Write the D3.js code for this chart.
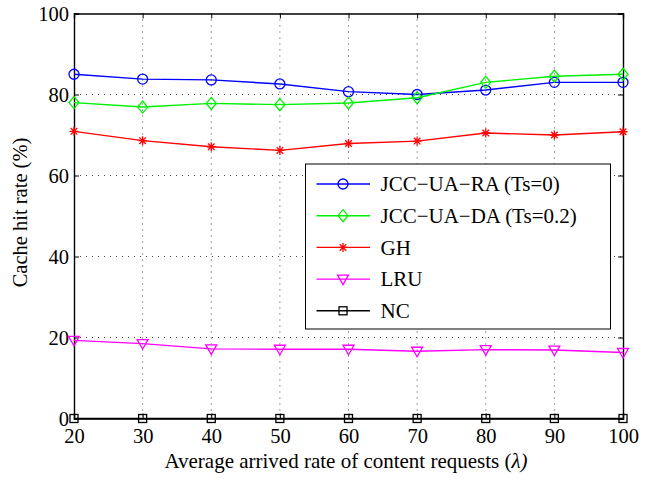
<!DOCTYPE html>
<html><head><meta charset="utf-8">
<script src="https://cdn.jsdelivr.net/npm/d3@7"></script>
<style>body{margin:0;background:#fff}svg{display:block}</style>
</head><body><svg id="c" width="656" height="478"></svg>
<script>
const xValues = [20,30,40,50,60,70,80,90,100];
const jccRA = [85.0,83.8,83.6,82.6,80.7,80.0,81.1,83.0,83.0];
const jccDA = [78.0,76.9,77.8,77.5,77.9,79.2,83.0,84.5,85.0];
const gh    = [70.9,68.6,67.1,66.2,67.9,68.5,70.5,70.0,70.8];
const lru   = [19.3,18.5,17.2,17.1,17.1,16.6,17.0,16.9,16.3];
const nc    = [0,0,0,0,0,0,0,0,0];
const seriesNames = ["JCC\u2212UA\u2212RA (Ts=0)","JCC\u2212UA\u2212DA (Ts=0.2)","GH","LRU","NC"];
const xTicks = [20,30,40,50,60,70,80,90,100];
const yTicks = [0,20,40,60,80,100];
const FONT = "Liberation Serif, Times New Roman, serif";

const series = [
  {name: seriesNames[0], values: jccRA, color: "#0000ff", marker: "circle"},
  {name: seriesNames[1], values: jccDA, color: "#00f000", marker: "diamond"},
  {name: seriesNames[2], values: gh,    color: "#ff0000", marker: "star"},
  {name: seriesNames[3], values: lru,   color: "#ff00ff", marker: "tri"},
  {name: seriesNames[4], values: nc,    color: "#000000", marker: "square"}
];

const svg = d3.select("#c");
const L = 74, R = 623, T = 13.5, B = 418.5;
const x = d3.scaleLinear().domain([20,100]).range([L,R]);
const y = d3.scaleLinear().domain([0,100]).range([B,T]);

// grid
const g = svg.append("g");
g.selectAll("line.gx").data(xTicks.slice(1,-1)).join("line")
  .attr("x1", d=>x(d)).attr("x2", d=>x(d)).attr("y1", T).attr("y2", B)
  .attr("stroke", "#444").attr("stroke-width", 1).attr("stroke-dasharray", "1,5");
g.selectAll("line.gy").data(yTicks.slice(1,-1)).join("line")
  .attr("y1", d=>y(d)).attr("y2", d=>y(d)).attr("x1", L).attr("x2", R)
  .attr("stroke", "#444").attr("stroke-width", 1).attr("stroke-dasharray", "1,5");

// axes
const ax = svg.append("g");
const xb = ax.append("g").attr("transform", `translate(0,${B})`)
  .call(d3.axisBottom(x).tickValues(xTicks).tickSize(-5).tickPadding(11).tickFormat(d3.format("d")));
const xt = ax.append("g").attr("transform", `translate(0,${T})`)
  .call(d3.axisTop(x).tickValues(xTicks).tickSize(-5).tickFormat(""));
const yl = ax.append("g").attr("transform", `translate(${L},0)`)
  .call(d3.axisLeft(y).tickValues(yTicks).tickSize(-5).tickPadding(5).tickFormat(d3.format("d")));
const yr = ax.append("g").attr("transform", `translate(${R},0)`)
  .call(d3.axisRight(y).tickValues(yTicks).tickSize(-5).tickFormat(""));
ax.selectAll("g").attr("font-family", FONT).attr("font-size", 20);
ax.selectAll(".domain").attr("stroke", "#000").attr("stroke-width", 1.4);
ax.selectAll(".tick line").attr("stroke", "#000").attr("stroke-width", 1);
ax.selectAll(".tick text").attr("font-family", FONT).attr("font-size", 20.5).attr("fill", "#000");
xb.selectAll(".tick text").attr("dy", "0.68em");
yl.selectAll(".tick text").attr("dy", "0.36em");

// lines & markers
function drawMarker(sel, type, color) {
  if (type === "circle") sel.append("circle").attr("r", 5).attr("fill", "none").attr("stroke", color).attr("stroke-width", 1.3);
  else if (type === "diamond") sel.append("path").attr("d", "M0,-6L5,0L0,6L-5,0Z").attr("fill", "none").attr("stroke", color).attr("stroke-width", 1.3);
  else if (type === "star") sel.append("path").attr("d", "M-4.5,0L4.5,0M0,-4.5L0,4.5M-3.3,-3.3L3.3,3.3M-3.3,3.3L3.3,-3.3").attr("stroke", color).attr("stroke-width", 1.3);
  else if (type === "tri") sel.append("path").attr("d", "M-5.5,-4L5.5,-4L0,5.5Z").attr("fill", "none").attr("stroke", color).attr("stroke-width", 1.3);
  else if (type === "square") sel.append("rect").attr("x", -4).attr("y", -4).attr("width", 8).attr("height", 8).attr("fill", "none").attr("stroke", color).attr("stroke-width", 1.3);
}
const line = d3.line().x((d,i)=>x(xValues[i])).y(d=>y(d));
series.forEach(s => {
  svg.append("path").attr("d", line(s.values)).attr("fill", "none").attr("stroke", s.color).attr("stroke-width", 1.4);
  s.values.forEach((v,i) => {
    const m = svg.append("g").attr("transform", `translate(${x(xValues[i])},${y(v)})`);
    drawMarker(m, s.marker, s.color);
  });
});

// legend
const lg = svg.append("g");
lg.append("rect").attr("x", 305.5).attr("y", 164).attr("width", 305).attr("height", 165)
  .attr("fill", "#fff").attr("stroke", "#000").attr("stroke-width", 1);
series.forEach((s,i) => {
  const yy = 184 + i*31.7;
  lg.append("line").attr("x1", 316.5).attr("x2", 370).attr("y1", yy).attr("y2", yy).attr("stroke", s.color).attr("stroke-width", 1.4);
  const m = lg.append("g").attr("transform", `translate(343,${yy})`);
  drawMarker(m, s.marker, s.color);
  lg.append("text").attr("x", 380.5).attr("y", yy).attr("dy", "0.35em")
    .attr("font-family", FONT).attr("font-size", 21).attr("fill", "#000").text(s.name);
});

// titles
const xt2 = svg.append("text").attr("x", 346).attr("y", 468).attr("text-anchor", "middle")
  .attr("font-family", FONT).attr("font-size", 21).attr("fill", "#000")
  .text("Average arrived rate of content requests (");
xt2.append("tspan").attr("font-style", "italic").text("\u03bb)");
svg.append("text").attr("transform", "translate(27,212.5) rotate(-90)").attr("text-anchor", "middle")
  .attr("font-family", FONT).attr("font-size", 20.5).attr("fill", "#000")
  .text("Cache hit rate (%)");
</script></body></html>
